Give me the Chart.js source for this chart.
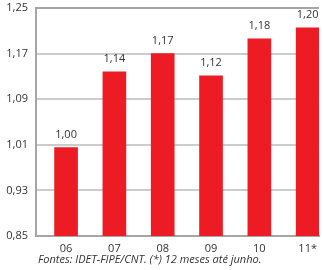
<!DOCTYPE html>
<html>
<head>
<meta charset="utf-8">
<script src="https://cdn.jsdelivr.net/npm/chart.js@4/dist/chart.umd.min.js"></script>
<style>
  html, body { margin: 0; padding: 0; background: #fff; }
  #wrap { width: 323px; height: 270px; position: relative; overflow: hidden; }
  #box { width: 323px; height: 270px; position: absolute; left: 0; top: 0; }
  #note { position: absolute; left: 38px; top: 252px; font: italic 11px "Open Sans", sans-serif; color: #333; line-height: 14px; white-space: nowrap; }
</style>
</head>
<body>
<div id="wrap">
  <div id="box"><canvas id="graph"></canvas></div>
  <div id="note"></div>
</div>
<script>
// data
const years = ['06', '07', '08', '09', '10', '11*'];
const barHeights = [1.005, 1.138, 1.170, 1.131, 1.196, 1.215];
const valueLabels = ['1,00', '1,14', '1,17', '1,12', '1,18', '1,20'];
const yTicks = [0.85, 0.93, 1.01, 1.09, 1.17, 1.25];
const note = 'Fontes: IDET-FIPE/CNT. (*) 12 meses até junho.';

document.getElementById('note').textContent = note;

const red = '#ed1c24';
const axisGray = '#a6a6a6';
const gridGray = '#cccccc';

// small plugin for the numbers above the bars
const barLabels = {
    id: 'barLabels',
    afterDatasetsDraw(chart) {
        const ctx = chart.ctx;
        const meta = chart.getDatasetMeta(0);
        ctx.save();
        ctx.font = '11px "Open Sans", sans-serif';
        ctx.fillStyle = '#333';
        ctx.textAlign = 'center';
        ctx.textBaseline = 'middle';
        meta.data.forEach(function(bar, i) {
            ctx.fillText(valueLabels[i], bar.x, bar.y - 13);
        });
        ctx.restore();
    }
};

const ct1 = document.getElementById('graph').getContext('2d');
const myChart = new Chart(ct1, {
    type: 'bar',
    data: {
        datasets: [{
            data: barHeights.map((v, i) => ({ x: i, y: v })),
            backgroundColor: red,
            barThickness: 23
        }]
    },
    options: {
        responsive: true,
        maintainAspectRatio: false,
        animation: false,
        layout: { padding: { top: 8, left: 0, right: 0, bottom: 0 } },
        plugins: {
            legend: { display: false },
            tooltip: { enabled: false }
        },
        scales: {
            x: {
                type: 'linear',
                offset: false,
                min: -0.622,
                max: 5.235,
                grid: { display: false, drawTicks: false },
                border: { display: true, color: axisGray, width: 2 },
                afterBuildTicks(scale) {
                    scale.ticks = years.map((y, i) => ({ value: i }));
                },
                afterFit(scale) { scale.height = 34; },
                ticks: {
                    autoSkip: false,
                    maxRotation: 0,
                    padding: 6,
                    color: '#333',
                    font: { family: '"Open Sans", sans-serif', size: 11 },
                    callback: (v) => years[v]
                }
            },
            y: {
                min: 0.85,
                max: 1.25,
                afterBuildTicks(scale) {
                    scale.ticks = yTicks.map(v => ({ value: v }));
                },
                afterFit(scale) {
                    scale.width = 36;
                    scale.paddingTop = 0;
                    scale.paddingBottom = 0;
                },
                grid: {
                    drawTicks: false,
                    lineWidth: 2,
                    color: (c) => c.tick && c.tick.value === 1.25 ? axisGray : gridGray
                },
                border: { display: true, color: axisGray, width: 2 },
                ticks: {
                    padding: 8,
                    color: '#333',
                    font: { family: '"Open Sans", sans-serif', size: 11 },
                    callback: (v) => v.toFixed(2).replace('.', ',')
                }
            }
        }
    },
    plugins: [barLabels]
});
</script>
</body>
</html>
